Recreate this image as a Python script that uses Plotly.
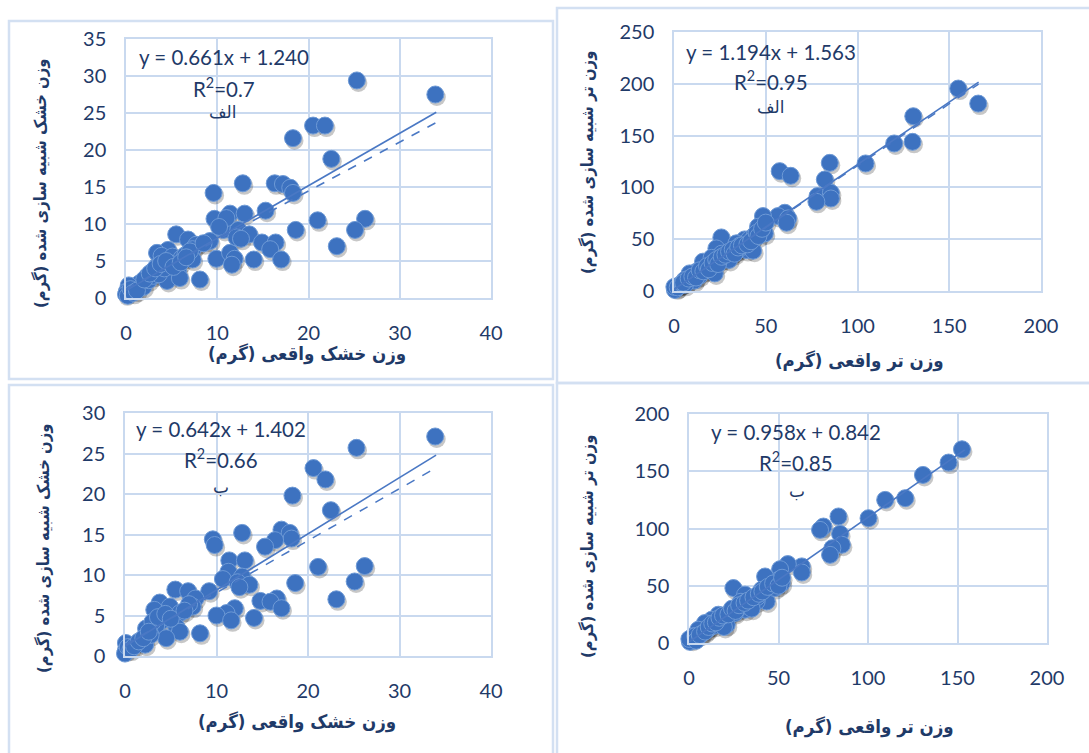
import plotly.graph_objects as go

W, H = 1089, 753

# ---------------- data ----------------
# Panel الف – dry weight (actual vs simulated)
dry_a_x = [25.3, 33.9, 20.5, 21.8, 18.3, 22.5, 12.8, 9.6, 16.3, 17.2, 18.0, 18.3, 15.3, 11.4, 13.0, 9.7,
           21.0, 26.2, 10.7, 18.6, 25.1, 12.3, 13.5, 5.5, 6.8, 9.2, 7.7, 14.9, 16.4, 15.8, 23.1, 7.3,
           4.6, 3.4, 3.9, 5.1, 6.1, 7.3, 9.9, 11.4, 11.9, 11.6, 14.0, 17.0, 4.8, 3.4, 5.7, 2.8, 2.3,
           8.1, 4.5, 5.9, 1.5, 1.9, 0.3, 0.1, 0.0, 0.2, 0.5, 0.8, 1.2, 2.5, 3.0, 3.6, 4.2, 6.5, 7.0,
           12.1, 11.0, 12.6, 8.5, 10.2, 2.0, 2.6, 3.2, 3.8, 4.4, 5.2, 6.0, 6.6]
dry_a_y = [29.4, 27.5, 23.3, 23.3, 21.6, 18.8, 15.5, 14.2, 15.5, 15.4, 14.9, 14.2, 11.8, 11.4, 11.4, 10.7,
           10.5, 10.7, 9.2, 9.2, 9.2, 9.2, 8.6, 8.6, 7.9, 7.7, 7.2, 7.5, 7.5, 6.6, 7.0, 6.6,
           6.5, 6.1, 5.7, 5.6, 5.4, 5.2, 5.3, 6.1, 5.3, 4.5, 5.2, 5.2, 4.7, 4.3, 3.6, 3.5, 2.9,
           2.5, 2.3, 2.7, 2.0, 1.5, 1.7, 0.9, 0.5, 0.3, 1.2, 0.7, 1.0, 2.4, 3.0, 3.2, 4.0, 5.8, 6.3,
           8.2, 10.8, 8.0, 7.4, 9.6, 2.5, 3.3, 4.0, 4.6, 5.0, 4.2, 4.8, 5.5]

# Panel الف – fresh weight
wet_a_x = [154.9, 165.8, 130.4, 130.0, 120.0, 104.4, 84.9, 57.6, 63.6, 82.2, 78.2, 85.5, 85.5, 77.6,
           60.4, 56.7, 62.2, 61.3, 48.5, 45.8, 49.5, 47.6, 25.8, 38.5, 23.1, 34.0, 39.5, 43.1, 31.3,
           27.6, 22.2, 15.8, 18.5, 12.2, 8.5, 5.8, 3.1, 1.3, 0.5, 0.2, 2.0, 4.5, 7.0, 10.0, 14.0,
           17.0, 20.0, 25.0, 29.0, 33.0, 36.0, 41.0, 44.0, 30.0, 35.0, 26.0, 20.5, 11.0, 6.0,
           5.0, 8.0, 10.0, 12.0, 14.0, 16.0, 18.0, 19.0, 21.0, 23.0, 24.0, 26.0, 28.0, 30.0, 32.0,
           33.0, 35.0, 37.0, 40.0, 42.0, 45.0, 46.0, 48.0, 50.0]
wet_a_y = [195.4, 180.9, 168.7, 144.0, 142.4, 123.1, 123.7, 115.7, 111.2, 107.6, 91.6, 94.8, 89.3, 86.1,
           75.5, 72.3, 70.1, 65.9, 72.3, 62.0, 55.6, 58.8, 51.7, 49.8, 41.1, 46.0, 39.5, 38.9, 36.3,
           31.5, 17.0, 28.3, 23.5, 18.6, 17.0, 10.6, 5.8, 2.6, 1.0, 4.0, 3.5, 7.0, 9.0, 12.5, 15.0,
           20.0, 26.0, 30.0, 34.0, 38.0, 44.0, 50.0, 54.0, 30.0, 40.0, 36.0, 32.0, 10.0, 6.0,
           8.0, 12.0, 14.0, 13.0, 20.0, 19.0, 24.0, 21.0, 27.0, 30.0, 26.0, 33.0, 35.0, 38.0, 40.0,
           36.0, 42.0, 44.0, 45.0, 48.0, 56.0, 53.0, 60.0, 66.0]

# Panel ب – dry weight
dry_b_x = [33.9, 25.3, 20.6, 21.9, 18.3, 22.5, 12.8, 9.6, 9.8, 17.1, 18.0, 18.2, 16.4, 15.3, 11.4, 13.1,
           21.1, 26.2, 11.3, 10.7, 12.8, 12.3, 13.6, 18.6, 25.1, 5.5, 6.9, 9.2, 7.7, 14.8, 16.6, 15.9,
           23.1, 17.1, 12.0, 11.1, 10.0, 11.6, 14.1, 7.4, 3.8, 4.9, 3.2, 6.0, 4.1, 5.6, 3.4, 2.3, 6.0,
           8.2, 4.5, 2.2, 0.1, 0.1, 0.0, 0.3, 0.6, 1.0, 1.5, 2.8, 3.0, 7.0, 12.5, 2.0, 2.6, 3.6, 4.4,
           5.0, 6.5]
dry_b_y = [27.1, 25.7, 23.2, 21.8, 19.8, 18.0, 15.2, 14.4, 13.7, 15.6, 15.2, 14.5, 14.3, 13.5, 11.8, 11.8,
           11.0, 11.1, 10.4, 9.5, 9.8, 9.1, 8.8, 9.0, 9.2, 8.2, 8.0, 8.0, 7.1, 6.8, 7.1, 6.7,
           7.0, 5.9, 5.9, 5.3, 5.0, 4.4, 4.7, 6.1, 6.6, 6.1, 5.7, 5.3, 4.4, 3.6, 3.7, 3.4, 3.0,
           2.8, 2.2, 1.4, 1.6, 0.7, 0.3, 1.1, 0.8, 1.2, 1.8, 2.6, 4.2, 6.4, 8.5, 2.2, 3.0, 4.8, 5.2,
           4.6, 5.6]

# Panel ب – fresh weight
wet_b_x = [152.5, 145.0, 130.7, 109.6, 120.8, 100.3, 83.5, 75.1, 73.2, 84.4, 85.4, 80.1, 78.8, 63.0,
           63.0, 55.2, 50.9, 50.0, 42.5, 51.8, 24.8, 31.3, 40.6, 43.4, 37.8, 31.3, 25.7, 21.1, 16.4,
           12.7, 8.9, 5.2, 2.4, 1.5, 0.5, 0.2, 3.5, 7.0, 10.5, 14.0, 18.0, 20.0, 23.0, 28.0, 34.0,
           38.0, 46.0, 48.0, 29.0, 35.0, 19.5, 4.0,
           6.0, 9.0, 11.0, 13.0, 15.0, 17.0, 19.0, 22.0, 24.0, 26.0, 28.0, 31.0, 33.0, 36.0, 39.0,
           41.0, 44.0, 47.0, 50.0, 52.0]
wet_b_y = [169.2, 157.6, 146.8, 125.0, 126.5, 109.0, 110.5, 101.7, 98.8, 95.3, 85.8, 82.8, 77.0, 66.9,
           61.6, 68.9, 64.5, 55.2, 58.1, 52.3, 48.0, 42.2, 46.5, 36.3, 36.3, 29.1, 26.2, 16.0, 24.7,
           20.3, 17.4, 11.6, 5.8, 2.9, 1.0, 3.5, 6.0, 8.0, 12.0, 15.0, 18.5, 22.0, 27.0, 31.0, 34.0,
           40.0, 50.0, 48.0, 36.0, 30.0, 14.0, 2.0,
           7.0, 10.0, 14.0, 17.0, 18.0, 22.0, 24.0, 25.0, 30.0, 28.0, 33.0, 35.0, 37.0, 40.0, 43.0,
           45.0, 49.0, 52.0, 50.0, 57.0]

line_x_dry = [0, 34]
solid_dry_a = [1.0, 25.1]
eq_dry_a = (0.661, 1.240)
solid_dry_b = [1.2, 24.8]
eq_dry_b = (0.642, 1.402)
line_x_wet_a = [0, 166]
solid_wet_a = [1.5, 201.7]
eq_wet_a = (1.194, 1.563)
line_x_wet_b = [0, 154]
solid_wet_b = [0.8, 168.6]

eq_texts = ["y = 0.661x + 1.240", "y = 1.194x + 1.563", "y = 0.642x + 1.402", "y = 0.958x + 0.842"]
r2_texts = ["R<sup>2</sup>=0.7", "R<sup>2</sup>=0.95", "R<sup>2</sup>=0.66", "R<sup>2</sup>=0.85"]
tags = ["الف", "الف", "ب", "ب"]
xtitles = ["وزن خشک واقعی (گرم)", "وزن تر واقعی (گرم)", "وزن خشک واقعی (گرم)", "وزن تر واقعی (گرم)"]
ytitles = ["وزن خشک شبیه سازی شده (گرم)", "وزن تر شبیه سازی شده (گرم)",
           "وزن خشک شبیه سازی شده (گرم)", "وزن تر شبیه سازی شده (گرم)"]

# ---------------- styling ----------------
BLUE = "#3D72C0"
EDGE = "#6E9AD6"
NAVY = "#1F3A68"
GRID = "#C9D9EF"
BORDER = "#D3E0F2"
TICKFONT = dict(family="Lato, Open Sans, sans-serif", size=20, color=NAVY)
EQFONT = dict(family="Lato, Open Sans, sans-serif", size=20.5, color=NAVY)
FA_FAMILY = "DejaVu Sans Condensed, DejaVu Sans"
XT_FONT = dict(family=FA_FAMILY, size=18.5, color=NAVY)
YT_FONT = dict(family=FA_FAMILY, size=16.5, color=NAVY)

# plot-area pixel boxes (left, right, top, bottom)
boxes = [(126, 491, 39, 298), (674, 1041, 32, 291), (125, 491, 413, 656), (689, 1047, 414, 643)]
xranges = [[0, 40], [0, 200], [0, 40], [0, 200]]
yranges = [[0, 35], [0, 250], [0, 30], [0, 200]]
xdticks = [10, 50, 10, 50]
ydticks = [5, 50, 5, 50]
datasets = [(dry_a_x, dry_a_y), (wet_a_x, wet_a_y), (dry_b_x, dry_b_y), (wet_b_x, wet_b_y)]
lines = [
    (line_x_dry, solid_dry_a, eq_dry_a),
    (line_x_wet_a, solid_wet_a, eq_wet_a),
    (line_x_dry, solid_dry_b, eq_dry_b),
    (line_x_wet_b, solid_wet_b, None),
]
# annotation pixel positions: eq, r2, tag, xtitle, ytitle
eq_pos = [(224, 57), (771, 52), (221, 429), (796, 432)]
r2_pos = [(224, 87), (771, 80), (221, 458), (796, 461)]
tag_pos = [(223, 112), (771, 107), (221, 487), (797, 491)]
xt_pos = [(307, 354), (859, 361), (297, 722), (869, 727)]
yt_pos = [(40, 183), (587, 163), (43, 548), (587, 547)]
panels_px = [(9, 553, 21, 379), (557, 1095, 8, 383), (9, 553, 385, 760), (557, 1095, 383, 760)]

def px(x):
    return x / W

def py(y):
    return 1 - y / H

fig = go.Figure()
layout = dict(width=W, height=H, autosize=False, margin=dict(l=0, r=0, t=0, b=0, pad=0),
              paper_bgcolor="white", plot_bgcolor="white", showlegend=False, template="none")

annotations = []
shapes = []
for i in range(4):
    n = "" if i == 0 else str(i + 1)
    xa, ya = "x" + n, "y" + n
    l, r, t, b = boxes[i]
    xs, ys = datasets[i]
    # shadow offset in data units
    ux = (xranges[i][1] - xranges[i][0]) / (r - l)
    uy = (yranges[i][1] - yranges[i][0]) / (b - t)
    fig.add_trace(go.Scatter(x=[v + 1.5 * ux for v in xs], y=[v - 2.5 * uy for v in ys], mode="markers",
                             marker=dict(size=18, color="rgba(0,0,0,0.22)", line=dict(width=0)),
                             xaxis=xa, yaxis=ya, cliponaxis=False, hoverinfo="skip"))
    fig.add_trace(go.Scatter(x=xs, y=ys, mode="markers",
                             marker=dict(size=17, color=BLUE, line=dict(color=EDGE, width=1)),
                             xaxis=xa, yaxis=ya, cliponaxis=False))
    lx, ly, eq = lines[i]
    fig.add_trace(go.Scatter(x=lx, y=ly, mode="lines", line=dict(color="#4A78C4", width=1.6),
                             xaxis=xa, yaxis=ya, cliponaxis=False))
    if eq is not None:
        fig.add_trace(go.Scatter(x=lx, y=[eq[0] * v + eq[1] for v in lx], mode="lines",
                                 line=dict(color="#4A78C4", width=1.5, dash="dash"),
                                 xaxis=xa, yaxis=ya, cliponaxis=False))
    axcommon = dict(showgrid=True, gridcolor=GRID, gridwidth=1.5, showline=True, linecolor=GRID,
                    linewidth=1.5, mirror=True, zeroline=False, tickfont=TICKFONT, automargin=False,
                    ticks="outside", tickcolor="rgba(0,0,0,0)")
    layout["xaxis" + n] = dict(axcommon, domain=[px(l), px(r)], range=xranges[i], dtick=xdticks[i],
                               tick0=0, anchor=ya, ticklen=16)
    layout["yaxis" + n] = dict(axcommon, domain=[py(b), py(t)], range=yranges[i], dtick=ydticks[i],
                               tick0=0, anchor=xa, ticklen=14)
    common = dict(xref="paper", yref="paper", showarrow=False, xanchor="center", yanchor="middle")
    annotations += [
        dict(common, text=eq_texts[i], x=px(eq_pos[i][0]), y=py(eq_pos[i][1]), font=EQFONT),
        dict(common, text=r2_texts[i], x=px(r2_pos[i][0]), y=py(r2_pos[i][1]), font=EQFONT),
        dict(common, text=tags[i], x=px(tag_pos[i][0]), y=py(tag_pos[i][1]),
             font=dict(family="DejaVu Sans", size=17, color=NAVY)),
        dict(common, text="<b>" + xtitles[i] + "</b>", x=px(xt_pos[i][0]), y=py(xt_pos[i][1]), font=XT_FONT),
        dict(common, text="<b>" + ytitles[i] + "</b>", x=px(yt_pos[i][0]), y=py(yt_pos[i][1]),
             textangle=-90, font=YT_FONT),
    ]
    pl, pr, pt, pb = panels_px[i]
    shapes.append(dict(type="rect", xref="paper", yref="paper", x0=px(pl), x1=px(pr), y0=py(pb), y1=py(pt),
                       line=dict(color=BORDER, width=2.5), fillcolor="rgba(0,0,0,0)", layer="below"))

layout["annotations"] = annotations
layout["shapes"] = shapes
fig.update_layout(**layout)
fig.write_html("out.html", config={"displayModeBar": False},
               post_script="document.body.style.margin='0';document.body.style.overflow='hidden';")
